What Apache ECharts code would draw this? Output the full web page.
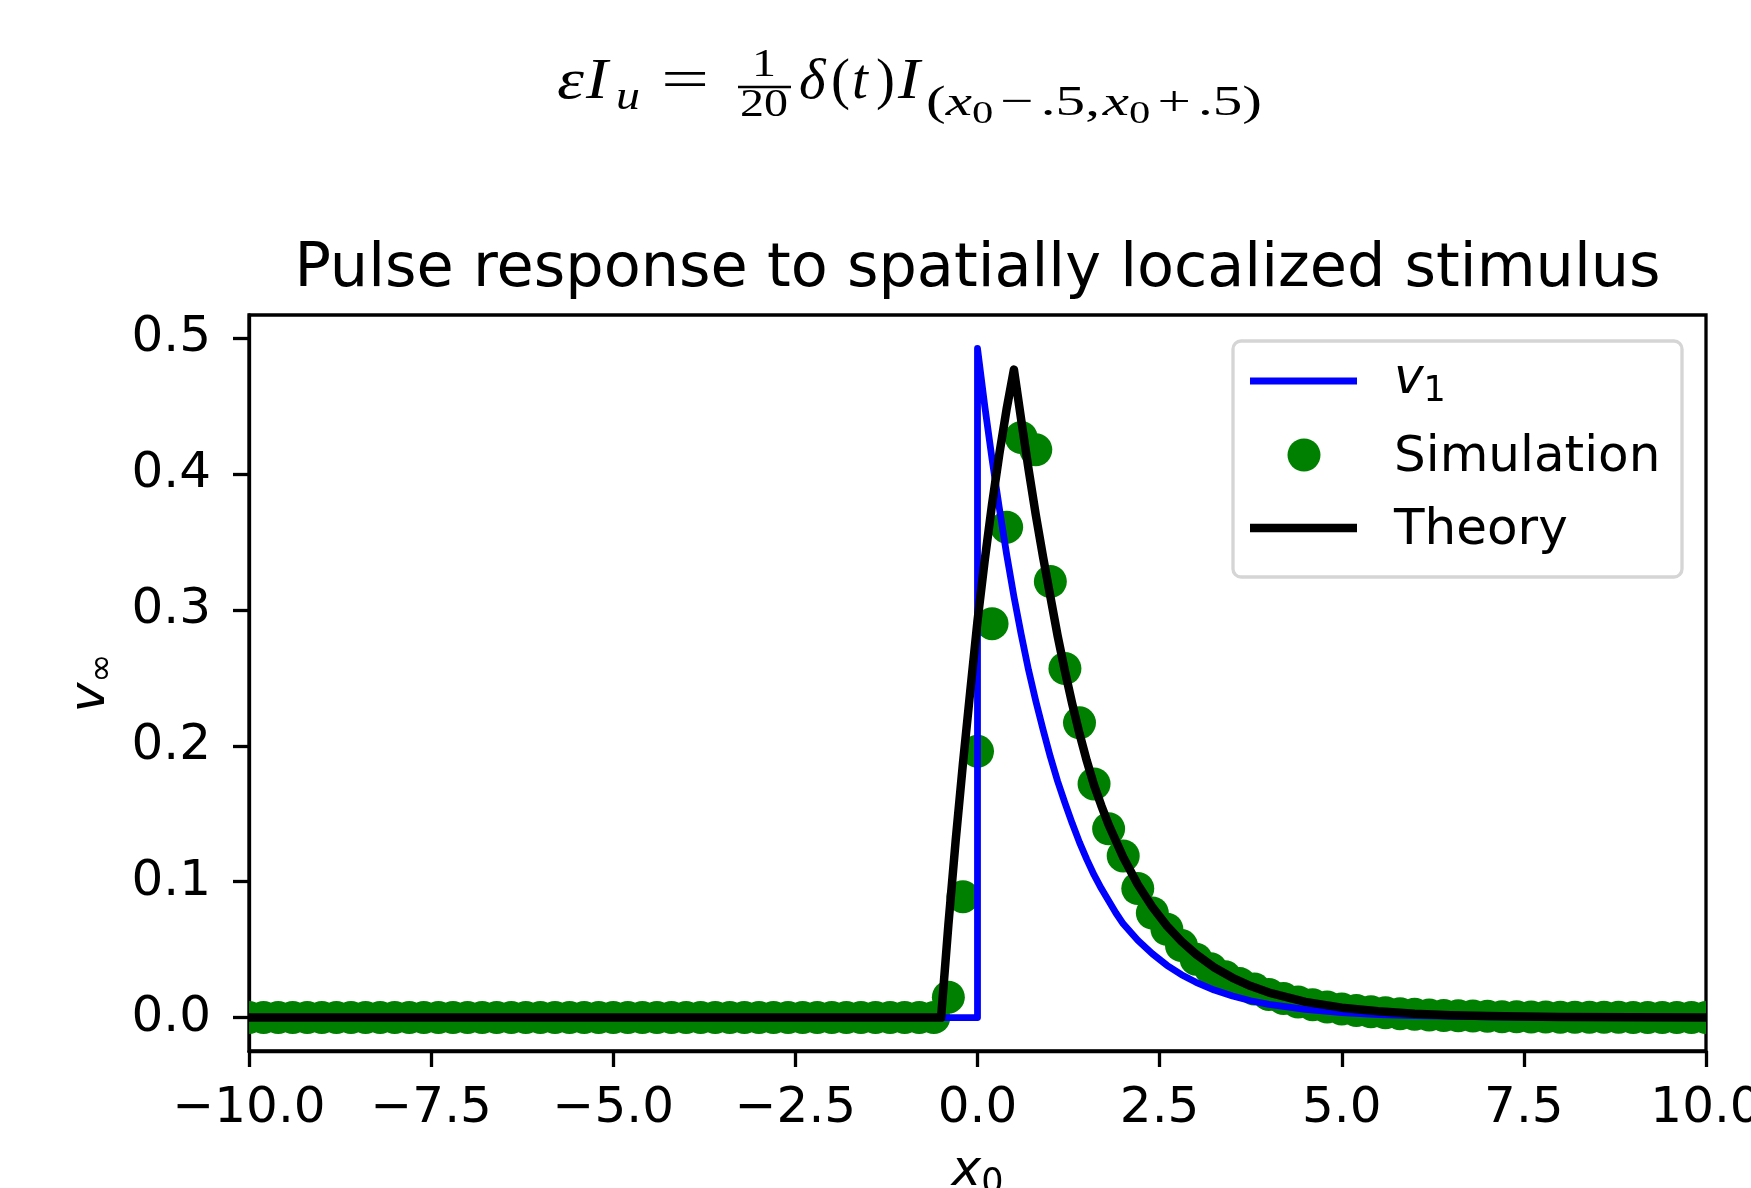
<!DOCTYPE html>
<html>
<head>
<meta charset="utf-8">
<script src="https://cdn.jsdelivr.net/npm/echarts@6/dist/echarts.min.js"></script>
<style>
html,body{margin:0;padding:0;background:#fff;overflow:hidden;}
#chart{width:1751px;height:1188px;}
</style>
</head>
<body>
<div id="chart"></div>
<script>
// ---------------- data ----------------
const titleText = 'Pulse response to spatially localized stimulus';
const seriesNames = ['v1', 'Simulation', 'Theory'];

const xTicks = [-10, -7.5, -5, -2.5, 0, 2.5, 5, 7.5, 10];
const yTicks = [0, 0.1, 0.2, 0.3, 0.4, 0.5];

// v1 (blue line)
const v1X = [-10, 0, 0, 0.1, 0.2, 0.3, 0.4, 0.5, 0.6, 0.7, 0.8, 0.9, 1.0, 1.1, 1.2, 1.3, 1.4, 1.5, 1.6, 1.7, 1.8, 1.9, 2.0,
  2.2, 2.4, 2.6, 2.8, 3.0, 3.25, 3.5, 3.75, 4.0, 4.5, 5.0, 5.5, 6.0, 7.0, 8.0, 9.0, 10.0];
const v1Y = [0, 0, 0.4926, 0.450, 0.411, 0.375, 0.341, 0.310, 0.282, 0.256, 0.233, 0.212, 0.192, 0.174, 0.158, 0.143, 0.129, 0.1165, 0.105, 0.095, 0.086, 0.077, 0.069,
  0.057, 0.047, 0.0385, 0.0316, 0.026, 0.0203, 0.0159, 0.0124, 0.0097, 0.0060, 0.0037, 0.0022, 0.0014, 0.0005, 0.0002, 0.0001, 0.0];

// Theory (black line)
const theoryX = [-10, -0.5, -0.4, -0.3, -0.2, -0.1, 0, 0.1, 0.2, 0.3, 0.4, 0.5, 0.6, 0.7, 0.8, 0.9, 1.0, 1.1, 1.2, 1.3, 1.4, 1.5, 1.6, 1.7, 1.8, 1.9, 2.0,
  2.2, 2.4, 2.6, 2.8, 3.0, 3.25, 3.5, 3.75, 4.0, 4.5, 5.0, 5.5, 6.0, 6.5, 7.0, 8.0, 9.0, 10.0];
const theoryY = [0, 0, 0.068, 0.130, 0.187, 0.240, 0.292, 0.337, 0.378, 0.415, 0.448, 0.477, 0.440, 0.404, 0.370, 0.339, 0.310, 0.281, 0.255, 0.231, 0.209, 0.189, 0.171, 0.156, 0.142, 0.130, 0.118,
  0.098, 0.0814, 0.0675, 0.0561, 0.0466, 0.0369, 0.0293, 0.0232, 0.0184, 0.0116, 0.0073, 0.0046, 0.0029, 0.0018, 0.0011, 0.0004, 0.0002, 0.0001];

// Simulation (green dots)
const simX = [-10, -9.8, -9.6, -9.4, -9.2, -9, -8.8, -8.6, -8.4, -8.2, -8, -7.8, -7.6, -7.4, -7.2, -7, -6.8, -6.6, -6.4, -6.2,
  -6, -5.8, -5.6, -5.4, -5.2, -5, -4.8, -4.6, -4.4, -4.2, -4, -3.8, -3.6, -3.4, -3.2, -3, -2.8, -2.6, -2.4, -2.2,
  -2, -1.8, -1.6, -1.4, -1.2, -1, -0.8, -0.6, -0.4, -0.2, 0, 0.2, 0.4, 0.6, 0.8, 1, 1.2, 1.4, 1.6, 1.8,
  2, 2.2, 2.4, 2.6, 2.8, 3, 3.2, 3.4, 3.6, 3.8, 4, 4.2, 4.4, 4.6, 4.8, 5, 5.2, 5.4, 5.6, 5.8,
  6, 6.2, 6.4, 6.6, 6.8, 7, 7.2, 7.4, 7.6, 7.8, 8, 8.2, 8.4, 8.6, 8.8, 9, 9.2, 9.4, 9.6, 9.8, 10];
const simY = [0, 0, 0, 0, 0, 0, 0, 0, 0, 0, 0, 0, 0, 0, 0, 0, 0, 0, 0, 0,
  0, 0, 0, 0, 0, 0, 0, 0, 0, 0, 0, 0, 0, 0, 0, 0, 0, 0, 0, 0,
  0, 0, 0, 0, 0, 0, 0, 0, 0.015, 0.089, 0.196, 0.290, 0.361, 0.427, 0.418, 0.321, 0.257, 0.217, 0.172, 0.139,
  0.119, 0.095, 0.077, 0.065, 0.053, 0.043, 0.036, 0.030, 0.025, 0.021, 0.017, 0.014, 0.0115, 0.0095, 0.0078, 0.0064, 0.0052, 0.0043, 0.0035, 0.0029,
  0.0024, 0.0019, 0.0016, 0.0013, 0.0011, 0.0009, 0.0007, 0.0006, 0.0005, 0.0004, 0.0003, 0.0003, 0.0002, 0.0002, 0.0002, 0.0001, 0.0001, 0.0001, 0.0001, 0.0001, 0.0001];

// ---------------- styling ----------------
const UI = 'DejaVu Sans';
const MATH = 'Liberation Serif';
const BLUE = '#0000ff', GREEN = '#008000', BLACK = '#000000';

function zip(a, b) { return a.map((v, i) => [v, b[i]]); }

// text helper placed by baseline
function mt(str, x, base, size, italic, align, sx) {
  return {
    type: 'text', x: x, y: base - 0.34 * size, z: 100, silent: true, scaleX: sx || 1,
    style: {
      text: str, fontFamily: MATH, fontSize: size, fontStyle: italic ? 'italic' : 'normal',
      fill: '#000', align: align || 'left', verticalAlign: 'middle',
      textAlign: align || 'left', textVerticalAlign: 'middle'
    }
  };
}

// measure helper for laying out the subscript of the formula
const mctx = document.createElement('canvas').getContext('2d');
function mw(str, size, italic) {
  mctx.font = (italic ? 'italic ' : '') + size + 'px "' + MATH + '"';
  return mctx.measureText(str).width;
}

const S = 43, SS = 31;
const subTokens = [
  { t: '(', s: S }, { t: 'x', s: S, i: true }, { t: '0', s: SS, dy: 7 }, { g: 0.12 * S },
  { t: '\u2212', s: S }, { g: 0.12 * S }, { t: '.5,', s: S }, { g: 0.05 * S },
  { t: 'x', s: S, i: true }, { t: '0', s: SS, dy: 7 }, { g: 0.12 * S },
  { t: '+', s: S }, { g: 0.12 * S }, { t: '.5)', s: S }
];
function layoutSub(x0, x1, base) {
  let pos = 0; const placed = [];
  subTokens.forEach(tk => {
    if (tk.g) { pos += tk.g; return; }
    placed.push({ tk: tk, p: pos });
    pos += mw(tk.t, tk.s, tk.i);
  });
  const k = (x1 - x0) / pos;
  return placed.map(o => mt(o.tk.t, x0 + o.p * k, base + (o.tk.dy || 0), o.tk.s, o.tk.i, 'left', k));
}

const formula = [
  mt('\u03b5', 557, 102, 57, true, 'left', 1.2),
  mt('I', 586, 102, 57, true, 'left', 1.15),
  mt('u', 616, 112, 40, true, 'left', 1.2),
  mt('=', 685, 102, 57, false, 'center', 1.5),
  mt('1', 764, 79, 40, false, 'center', 1.2),
  { type: 'line', z: 100, silent: true, shape: { x1: 738, y1: 87, x2: 791, y2: 87 }, style: { stroke: '#000', lineWidth: 2.5 } },
  mt('20', 764, 119, 40, false, 'center', 1.2),
  mt('\u03b4', 799, 102, 57, true),
  mt('(', 831, 102, 57, false),
  mt('t', 852, 102, 57, true),
  mt(')', 876, 102, 57, false),
  mt('I', 898, 102, 57, true, 'left', 1.15)
].concat(layoutSub(926, 1262, 118));

const richSub = {
  a: { fontFamily: UI, fontSize: 50, fontStyle: 'italic', lineHeight: 60, color: '#000' },
  b: { fontFamily: UI, fontSize: 35, lineHeight: 60, padding: [24, 0, 0, 0], color: '#000' }
};

const legendEls = [
  { type: 'rect', z: 100, silent: true, shape: { x: 1233, y: 341, width: 449, height: 236, r: 8 },
    style: { fill: '#ffffff', stroke: '#d5d5d5', lineWidth: 3.3 } },
  { type: 'line', z: 101, silent: true, shape: { x1: 1250, y1: 381, x2: 1357, y2: 381 }, style: { stroke: BLUE, lineWidth: 6.8 } },
  { type: 'circle', z: 101, silent: true, shape: { cx: 1304, cy: 455, r: 16.5 }, style: { fill: GREEN } },
  { type: 'line', z: 101, silent: true, shape: { x1: 1250, y1: 528, x2: 1357, y2: 528 }, style: { stroke: BLACK, lineWidth: 8.5 } },
  { type: 'text', z: 101, silent: true, x: 1394, y: 380,
    style: { text: '{a|v}{b|1}', rich: richSub, align: 'left', verticalAlign: 'middle', textAlign: 'left', textVerticalAlign: 'middle' } },
  { type: 'text', z: 101, silent: true, x: 1394, y: 458,
    style: { text: seriesNames[1], fontFamily: UI, fontSize: 50, fill: '#000', align: 'left', verticalAlign: 'middle', textAlign: 'left', textVerticalAlign: 'middle' } },
  { type: 'text', z: 101, silent: true, x: 1394, y: 531,
    style: { text: seriesNames[2], fontFamily: UI, fontSize: 50, fill: '#000', align: 'left', verticalAlign: 'middle', textAlign: 'left', textVerticalAlign: 'middle' } }
];

const chart = echarts.init(document.getElementById('chart'), null, { renderer: 'canvas', width: 1751, height: 1188 });

const axisCommon = {
  axisLine: { show: true, onZero: false, lineStyle: { color: '#000', width: 3.3 } },
  axisTick: { show: true, inside: false, length: 16, lineStyle: { color: '#000', width: 3.3 } },
  splitLine: { show: false }
};

const option = {
  animation: false,
  backgroundColor: '#ffffff',
  title: {
    text: titleText, left: 972.5, top: 235, textAlign: 'center',
    textStyle: { fontFamily: UI, fontSize: 60.5, fontWeight: 'normal', color: '#000' }
  },
  grid: {
    left: 249, right: 45, top: 315, bottom: 137, containLabel: false, outerBoundsMode: 'none',
    show: true, borderColor: '#000', borderWidth: 3.3, backgroundColor: 'transparent'
  },
  xAxis: Object.assign({}, axisCommon, {
    type: 'value', min: -10, max: 10, interval: 2.5,
    axisTick: Object.assign({}, axisCommon.axisTick, { customValues: xTicks }),
    axisLabel: {
      customValues: xTicks, margin: 33, fontFamily: UI, fontSize: 50, color: '#000',
      formatter: v => v.toFixed(1).replace('-', '\u2212')
    },
    name: '{a|x}{b|0}', nameLocation: 'middle', nameGap: 91,
    nameTextStyle: { rich: richSub }
  }),
  yAxis: Object.assign({}, axisCommon, {
    type: 'value', min: -0.0246, max: 0.5172,
    axisTick: Object.assign({}, axisCommon.axisTick, { customValues: yTicks }),
    axisLabel: {
      customValues: yTicks, margin: 38, fontFamily: UI, fontSize: 50, color: '#000',
      formatter: v => v.toFixed(1)
    },
    name: '{a|v}{b|\u221e}', nameLocation: 'middle', nameRotate: 90, nameGap: 122,
    nameTextStyle: { rich: richSub }
  }),
  graphic: { elements: formula.concat(legendEls) },
  series: [
    {
      name: seriesNames[0], type: 'line', data: zip(v1X, v1Y), showSymbol: false, symbol: 'none',
      clip: true, lineStyle: { color: BLUE, width: 6.8, join: 'round' }, z: 2
    },
    {
      name: seriesNames[1], type: 'custom', data: zip(simX, simY), clip: true, z: 2,
      encode: { x: 0, y: 1 },
      renderItem: function (params, api) {
        const p = api.coord([api.value(0), api.value(1)]);
        return { type: 'circle', shape: { cx: p[0], cy: p[1], r: 16.5 }, style: { fill: GREEN } };
      }
    },
    {
      name: seriesNames[2], type: 'line', data: zip(theoryX, theoryY), showSymbol: false, symbol: 'none',
      clip: true, lineStyle: { color: BLACK, width: 8.5, join: 'round' }, z: 2
    }
  ]
};
chart.setOption(option);
</script>
</body>
</html>
